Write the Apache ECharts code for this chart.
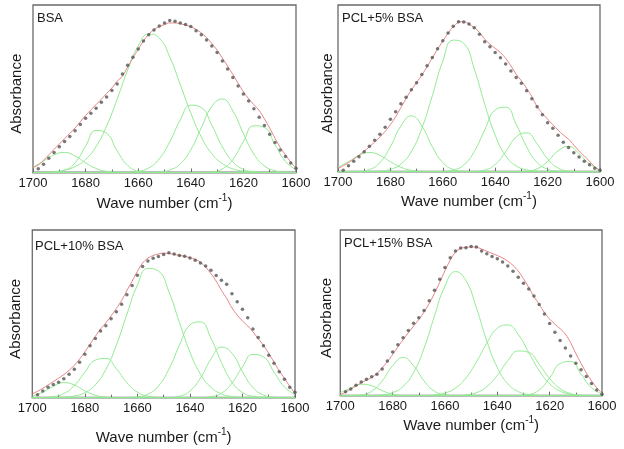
<!DOCTYPE html>
<html>
<head>
<meta charset="utf-8">
<script src="https://cdn.jsdelivr.net/npm/echarts@6/dist/echarts.min.js"></script>
<style>html,body{margin:0;padding:0;background:#fff}#c{width:624px;height:449px}</style>
</head>
<body>
<div id="c"></div>
<script>
// ---- x positions (wave number, cm-1) ----
const fitX  = [1700,1698,1696,1694,1692,1690,1688,1686,1684,1682,1680,1678,1676,1674,1672,1670,1668,1666,1664,1662,1660,1658,1656,1654,1652,1650,1648,1646,1644,1642,1640,1638,1636,1634,1632,1630,1628,1626,1624,1622,1620,1618,1616,1614,1612,1610,1608,1606,1604,1602,1600];
const dotX  = [1698,1696,1694,1692,1690,1688,1686,1684,1682,1680,1678,1676,1674,1672,1670,1668,1666,1664,1662,1660,1658,1656,1654,1652,1650,1648,1646,1644,1642,1640,1638,1636,1634,1632,1630,1628,1626,1624,1622,1620,1618,1616,1614,1612,1610,1608,1606,1604,1602,1600];
const compX = [1700,1696,1692,1688,1684,1680,1676,1672,1668,1664,1660,1656,1652,1648,1644,1640,1636,1632,1628,1624,1620,1616,1612,1608,1604,1600];
const xTicks = [1700,1680,1660,1640,1620,1600];
const panelLabels = ['BSA','PCL+5% BSA','PCL+10% BSA','PCL+15% BSA'];

// ---- BSA ----
const bsaFit  = [3.0,4.5,7.3,10.5,13.8,17.0,20.2,23.3,26.6,30.3,34.0,37.4,40.5,43.8,47.2,50.5,54.5,57.5,63.0,68.5,73.5,78.5,82.5,85.3,87.0,88.3,89.3,89.3,88.8,88.0,87.0,85.5,83.3,80.5,77.0,73.0,68.3,63.5,58.5,53.3,48.3,44.0,40.5,37.0,32.0,26.5,20.5,15.0,10.5,6.2,2.5];
const bsaDots = [2.2,5.0,8.5,11.9,15.3,18.5,21.5,24.9,28.6,32.4,35.4,38.4,41.9,45.1,48.9,52.9,58.8,64.0,68.8,73.8,78.5,82.3,85.1,87.5,89.3,90.7,90.3,89.3,88.3,87.1,84.7,82.3,79.1,75.5,71.6,66.6,61.8,56.7,51.7,46.9,42.7,38.0,33.0,28.0,22.9,17.9,13.5,9.5,5.6,2.6];
const bsaC1 = [3.1,6.8,10.6,12,9.8,5.8,2.4,0.7,0.2,0,0,0,0,0,0,0,0,0,0,0,0,0,0,0,0,0];
const bsaC2 = [0,0,0.2,1.3,5.8,15.8,25.1,23.4,12.9,4.2,0.8,0.1,0,0,0,0,0,0,0,0,0,0,0,0,0,0];
const bsaC3 = [0,0.1,0.5,1.4,3.5,7.8,15.6,27.8,43.8,61.2,75.5,82.7,80.3,69.0,52.5,35.5,21.2,11.2,5.3,2.2,0.8,0.3,0.1,0,0,0];
const bsaC4 = [0,0,0,0,0,0,0,0,0,0.1,0.7,2.7,8.1,18.3,31.4,40.2,38.8,28.2,15.4,6.4,1.9,0.5,0.1,0,0,0];
const bsaC5 = [0,0,0,0,0,0,0,0,0,0,0,0,0.3,1.5,5.2,13.6,26.7,39.4,43.9,36.7,23.2,11.0,3.9,1.1,0.2,0];
const bsaC6 = [0,0,0,0,0,0,0,0,0,0,0,0,0,0,0,0,0,0.4,2.1,7.8,18.5,27.9,26.9,16.7,6.6,1.7];

// ---- PCL+5% BSA ----
const p5Fit  = [2.0,3.5,5.5,7.5,9.8,12.3,15.0,17.8,20.8,24.2,28.2,33.0,38.5,44.0,49.0,53.5,58.0,63.0,68.3,73.5,78.3,83.0,87.0,89.5,90.0,88.5,86.5,83.5,79.5,76.5,74.0,71.5,68.0,63.5,58.5,54.5,50.0,45.0,39.0,35.0,31.5,28.2,25.0,22.0,19.5,16.0,12.5,9.5,6.3,3.0,0.6];
const p5Dots = [0.8,3.5,6.3,9.0,12.0,15.2,18.8,22.5,26.6,31.4,36.0,40.8,44.6,49.2,53.4,58.3,63.5,68.5,73.7,78.5,83.2,87.2,90.0,89.8,88.6,86.4,82.5,78.0,75.0,71.5,68.3,64.6,60.4,56.5,53.0,48.5,43.7,38.9,34.2,29.4,26.0,21.8,17.7,14.5,11.4,8.8,6.3,4.2,2.1,0.8];
const p5C1 = [2.7,6.0,9.8,11.5,9.8,6.0,2.7,0.8,0.2,0,0,0,0,0,0,0,0,0,0,0,0,0,0,0,0,0];
const p5C2 = [0,0,0.2,1.3,5.5,15.0,27.4,33.5,27.4,15.0,5.5,1.3,0.2,0,0,0,0,0,0,0,0,0,0,0,0,0];
const p5C3 = [0,0,0,0.1,0.4,1.4,4.6,12.1,26.0,45.6,66.4,78.9,77.0,61.7,40.5,21.9,9.6,3.5,1.1,0.3,0.1,0,0,0,0,0];
const p5C4 = [0,0,0,0,0,0,0,0,0,0,0.2,1.0,4.1,12.1,25.1,37.0,38.7,28.5,14.9,5.5,1.5,0.3,0,0,0,0];
const p5C5 = [0,0,0,0,0,0,0,0,0,0,0,0,0,0.2,1.0,4.4,11.9,20.8,23.3,16.7,7.7,2.2,0.4,0.1,0,0];
const p5C6 = [0,0,0,0,0,0,0,0,0,0,0,0,0,0,0,0,0,0,0.3,1.7,6.1,12.5,15.2,10.9,4.6,1.2];

// ---- PCL+10% BSA ----
const p10Fit  = [2.3,3.8,5.6,7.6,9.6,11.6,13.8,16.3,19.3,23.0,27.3,32.0,36.6,41.0,44.6,48.8,53.2,58.0,63.8,69.5,75.3,80.3,83.2,84.8,85.7,86.2,86.0,85.4,84.9,84.3,83.5,82.5,80.8,77.8,74.0,69.5,64.0,59.2,53.6,49.3,45.8,42.8,39.3,35.2,31.2,26.5,21.2,16.0,11.5,6.8,2.6];
const p10Dots = [1.7,4.0,6.2,7.8,9.2,11.3,14.0,16.9,21.1,25.9,31.0,35.3,39.7,42.9,47.1,51.3,55.7,61.4,66.9,73.0,78.2,81.5,83.1,84.2,85.4,86.5,85.7,84.8,84.3,83.3,82.0,80.3,78.5,76.0,72.8,70.1,67.6,62.0,57.2,52.8,47.7,41.0,35.9,31.0,25.3,20.6,15.5,11.0,6.3,3.2];
const p10C1 = [1.0,3.3,6.8,9.0,7.6,4.1,1.4,0.3,0,0,0,0,0,0,0,0,0,0,0,0,0,0,0,0,0,0];
const p10C2 = [0,0.1,0.6,2.5,7.3,15.2,22.4,23.4,17.3,9.0,3.3,0.9,0.2,0,0,0,0,0,0,0,0,0,0,0,0,0];
const p10C3 = [0,0,0.1,0.3,1.0,3.0,7.7,16.9,31.4,49.7,67.1,77.1,75.6,63.2,44.9,27.2,14.1,6.2,2.3,0.7,0.2,0.1,0,0,0,0];
const p10C4 = [0,0,0,0,0,0,0,0,0,0.1,0.5,2.1,6.9,17.0,31.2,43.3,45.2,35.5,21.0,9.3,3.1,0.8,0.2,0,0,0];
const p10C5 = [0,0,0,0,0,0,0,0,0,0,0,0,0,0.1,0.9,4.0,11.7,23.0,30.2,26.5,15.5,6.1,1.6,0.3,0,0];
const p10C6 = [0,0,0,0,0,0,0,0,0,0,0,0,0,0,0,0,0.1,0.6,2.7,8.7,18.3,25.8,24.3,15.3,6.4,1.8];

// ---- PCL+15% BSA ----
const p15Fit  = [0.6,2.2,4.0,5.9,7.8,9.4,11.1,13.3,16.8,20.6,24.8,29.5,33.8,38.0,42.0,46.0,50.5,55.8,61.8,68.5,75.5,81.8,86.6,88.9,89.5,89.8,89.6,88.5,87.2,85.9,84.6,83.1,81.2,78.6,75.2,70.6,65.4,59.8,55.2,50.2,46.2,43.2,40.4,37.2,32.0,25.5,19.5,13.8,8.9,4.8,1.4];
const p15Dots = [2.4,4.0,6.3,8.2,9.9,11.4,12.9,16.1,21.0,26.3,30.8,35.0,39.3,43.7,47.1,51.4,57.3,63.7,70.3,77.4,83.3,87.3,89.1,89.3,90.0,89.8,87.3,85.7,84.0,82.6,80.7,78.3,75.1,71.5,67.9,64.4,60.2,55.1,49.3,43.6,38.3,33.3,28.8,23.9,19.6,15.6,11.6,7.3,3.5,0.8];
const p15C1 = [1.8,4.6,6.9,6.0,3.1,0.9,0.2,0,0,0,0,0,0,0,0,0,0,0,0,0,0,0,0,0,0,0];
const p15C2 = [0,0.1,0.5,2.7,8.9,18.1,23.0,18.1,8.9,2.7,0.5,0.1,0,0,0,0,0,0,0,0,0,0,0,0,0,0];
const p15C3 = [0,0,0,0.1,0.5,1.9,5.6,14.0,28.6,48.2,66.2,74.9,69.5,53.0,33.0,17.0,7.2,2.5,0.7,0.2,0,0,0,0,0,0];
const p15C4 = [0,0,0,0,0,0,0,0,0.1,0.5,1.6,4.6,10.7,20.4,31.7,40.7,42.7,36.9,26.1,15.2,7.2,2.8,0.9,0.2,0,0];
const p15C5 = [0,0,0,0,0,0,0,0,0,0,0,0.1,0.5,1.8,5.5,12.3,21.1,27.0,26.1,19.0,10.4,4.3,1.3,0.3,0.1,0];
const p15C6 = [0,0,0,0,0,0,0,0,0,0,0,0,0,0,0,0,0,0.1,0.7,3.5,10.7,19.4,20.7,13.0,4.8,1.1];

const panels = [
  {fit: bsaFit, dots: bsaDots, comps: [bsaC1,bsaC2,bsaC3,bsaC4,bsaC5,bsaC6]},
  {fit: p5Fit,  dots: p5Dots,  comps: [p5C1,p5C2,p5C3,p5C4,p5C5,p5C6]},
  {fit: p10Fit, dots: p10Dots, comps: [p10C1,p10C2,p10C3,p10C4,p10C5,p10C6]},
  {fit: p15Fit, dots: p15Dots, comps: [p15C1,p15C2,p15C3,p15C4,p15C5,p15C6]}
];

// ---- layout (pixels) ----
const layout = [
  {grid:{left:33, top:5, width:263, height:167.5},       label:{left:37, top:12},  xGap:21, yGap:9},
  {grid:{left:338, top:5, width:262, height:166.7},      label:{left:342, top:12}, xGap:20, yGap:3},
  {grid:{left:32.3, top:230, width:262.7, height:167.7}, label:{left:35, top:240}, xGap:30, yGap:9},
  {grid:{left:340.3, top:230, width:261.7, height:165.7},label:{left:344, top:237}, xGap:20, yGap:6}
];

const FONT = 'Liberation Sans, Arial, sans-serif';
const GREEN = '#92ea92', RED = '#e68484', DOT = '#555555', FRAME = '#6a6a6a';

const option = {
  animation: false,
  backgroundColor: '#fff',
  title: panelLabels.map((t,i)=>({
    text: t, left: layout[i].label.left, top: layout[i].label.top, padding: 0,
    textStyle: {fontSize: 13, fontWeight: 'normal', color: '#1a1a1a', fontFamily: FONT}
  })),
  grid: layout.map(l=>Object.assign({show:true, borderColor:FRAME, borderWidth:1.3, backgroundColor:'transparent'}, l.grid)),
  xAxis: layout.map((l,i)=>({
    type:'value', gridIndex:i, min:1600, max:1700, interval:20, inverse:true,
    axisLine:{show:true, lineStyle:{color:FRAME, width:1.3}},
    axisTick:{show:true, inside:true, length:4, lineStyle:{color:FRAME}},
    minorTick:{show:true, splitNumber:2, length:3, lineStyle:{color:FRAME}},
    splitLine:{show:false},
    axisLabel:{fontSize:13, color:'#1a1a1a', margin:4, fontFamily:FONT,
      formatter: v => xTicks.indexOf(v) >= 0 ? String(v) : ''},
    name:'{a|Wave number (cm}{b|-1}{a|)}', nameLocation:'middle', nameGap:l.xGap,
    nameTextStyle:{rich:{
      a:{fontSize:15, color:'#1a1a1a', fontFamily:FONT, lineHeight:18, verticalAlign:'bottom'},
      b:{fontSize:10, color:'#1a1a1a', fontFamily:FONT, lineHeight:18, verticalAlign:'top'}
    }}
  })),
  yAxis: layout.map((l,i)=>({
    type:'value', gridIndex:i, min:0, max:100,
    axisLine:{show:false}, axisTick:{show:false}, axisLabel:{show:false}, splitLine:{show:false},
    name:'Absorbance', nameLocation:'middle', nameRotate:90, nameGap:l.yGap,
    nameTextStyle:{fontSize:15, color:'#1a1a1a', fontFamily:FONT, padding:[0,10,0,0]}
  })),
  series: []
};

panels.forEach((p,i)=>{
  p.comps.forEach(c=>{
    option.series.push({type:'line', xAxisIndex:i, yAxisIndex:i, smooth:true, showSymbol:false, z:2,
      lineStyle:{color:GREEN, width:1}, data: compX.map((x,k)=>[x,c[k]])});
  });
  option.series.push({type:'line', xAxisIndex:i, yAxisIndex:i, smooth:0.4, showSymbol:false, z:3,
    lineStyle:{color:RED, width:1}, data: fitX.map((x,k)=>[x,p.fit[k]])});
  option.series.push({type:'scatter', xAxisIndex:i, yAxisIndex:i, symbolSize:3.5, z:4,
    itemStyle:{color:DOT}, data: dotX.map((x,k)=>[x,p.dots[k]])});
});

const chart = echarts.init(document.getElementById('c'), null, {renderer:'canvas'});
chart.setOption(option);
</script>
</body>
</html>
